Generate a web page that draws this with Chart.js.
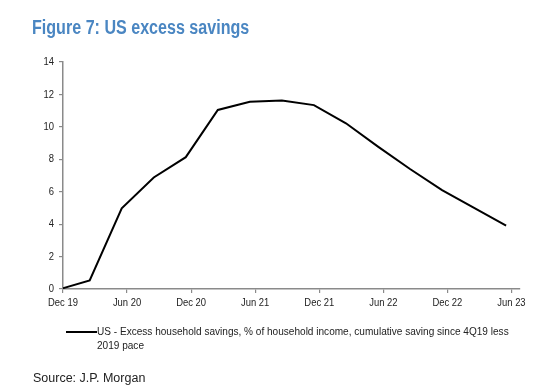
<!DOCTYPE html>
<html>
<head>
<meta charset="utf-8">
<script src="https://cdn.jsdelivr.net/npm/chart.js@4.4.1/dist/chart.umd.min.js"></script>
<style>
  html, body { margin: 0; padding: 0; background: #ffffff; }
  body { width: 539px; height: 387px; position: relative; overflow: hidden; font-family: "Liberation Sans", Arial, sans-serif; }
  #wrap { position: absolute; left: 0; top: 0; width: 539px; height: 387px; }
  #title { position: absolute; left: 32px; top: 16px; font-size: 19.5px; font-weight: bold; color: #4a86c2; white-space: nowrap; transform: scaleX(0.825); transform-origin: 0 0; }
  #legend { position: absolute; left: 66px; top: 324px; width: 520px; font-size: 11.5px; color: #222; line-height: 14px; }
  #legend .swatch { position: absolute; left: 0; top: 7px; width: 31px; height: 0; border-top: 2px solid #000; }
  #legend .txt { position: absolute; left: 31px; top: 0; white-space: nowrap; transform: scaleX(0.875); transform-origin: 0 0; }
  #source { position: absolute; left: 33px; top: 371px; font-size: 12.5px; color: #222; white-space: nowrap; }
</style>
</head>
<body>
<div id="wrap"><canvas id="c" width="539" height="387"></canvas></div>
<div id="title">Figure 7: US excess savings</div>
<div id="legend"><div class="swatch"></div><div class="txt"><div id="lg1"></div><div id="lg2"></div></div></div>
<div id="source">Source: J.P. Morgan</div>
<script>
// Months since Dec 2019 (quarterly observations, plotted mid-quarter)
const monthsSinceDec19 = [0, 2.5, 5.5, 8.5, 11.5, 14.5, 17.5, 20.5, 23.5, 26.5, 29.5, 32.5, 35.5, 38.5, 41.5];
// Excess household savings, % of household income
const excessSavings = [0.05, 0.53, 4.98, 6.88, 8.13, 11.04, 11.55, 11.63, 11.34, 10.22, 8.78, 7.40, 6.10, 5.00, 3.91];
const seriesNameLines = ["US - Excess household savings, % of household income, cumulative saving since 4Q19 less", "2019 pace"];
const seriesName = seriesNameLines.join(" ");
const xTickValues = [0, 6, 12, 18, 24, 30, 36, 42];
const xTickLabels = ["Dec 19", "Jun 20", "Dec 20", "Jun 21", "Dec 21", "Jun 22", "Dec 22", "Jun 23"];
const yTickValues = [0, 2, 4, 6, 8, 10, 12, 14];

document.getElementById('lg1').textContent = seriesNameLines[0];
document.getElementById('lg2').textContent = seriesNameLines[1];

const axisGray = '#8a8a8a';
const tickFont = { family: '"Liberation Sans", Arial, sans-serif', size: 11.5 };
const NARROW = 0.82;

// Render tick labels horizontally condensed (Arial Narrow look) around their anchor point
const narrowLabels = {
  id: 'narrowLabels',
  afterLayout(chart) {
    Object.values(chart.scales).forEach(scale => {
      if (scale._narrowPatched) return;
      scale._narrowPatched = true;
      const orig = scale.drawLabels;
      scale.drawLabels = function (area) {
        const ctx = this.ctx;
        const proto = Object.getPrototypeOf(ctx).fillText;
        ctx.fillText = function (t, x, y) {
          this.save();
          this.translate(x, y);
          this.scale(NARROW, 1);
          proto.call(this, t, 0, 0);
          this.restore();
        };
        try { orig.call(this, area); } finally { delete ctx.fillText; }
      };
    });
  }
};

new Chart(document.getElementById('c'), {
  type: 'line',
  data: {
    datasets: [{
      label: seriesName,
      data: monthsSinceDec19.map((m, i) => ({ x: m, y: excessSavings[i] })),
      borderColor: '#000000',
      borderWidth: 2,
      pointRadius: 0,
      tension: 0,
      fill: false
    }]
  },
  plugins: [narrowLabels],
  options: {
    responsive: false,
    animation: false,
    layout: { padding: { left: 23, right: 19, top: 62, bottom: 68 } },
    plugins: { legend: { display: false }, tooltip: { enabled: false } },
    scales: {
      x: {
        type: 'linear',
        min: 0,
        max: 42.8,
        afterBuildTicks: (s) => { s.ticks = xTickValues.map(v => ({ value: v })); },
        afterFit: (s) => { s.height = 30; },
        ticks: {
          color: '#222',
          font: tickFont,
          padding: 3,
          maxRotation: 0,
          autoSkip: false,
          callback: (v) => { const i = xTickValues.indexOf(v); return i >= 0 ? xTickLabels[i] : ''; }
        },
        grid: { display: true, drawOnChartArea: false, drawTicks: true, tickLength: 4, color: axisGray, lineWidth: 1.2 },
        border: { display: true, color: axisGray, width: 1.5 }
      },
      y: {
        min: 0,
        max: 14,
        afterBuildTicks: (s) => { s.ticks = yTickValues.map(v => ({ value: v })); },
        afterFit: (s) => { s.width = 40; },
        ticks: { color: '#222', font: tickFont, padding: 5 },
        grid: { display: true, drawOnChartArea: false, drawTicks: true, tickLength: 4, color: axisGray, lineWidth: 1.2 },
        border: { display: true, color: axisGray, width: 1.5 }
      }
    }
  }
});
</script>
</body>
</html>
